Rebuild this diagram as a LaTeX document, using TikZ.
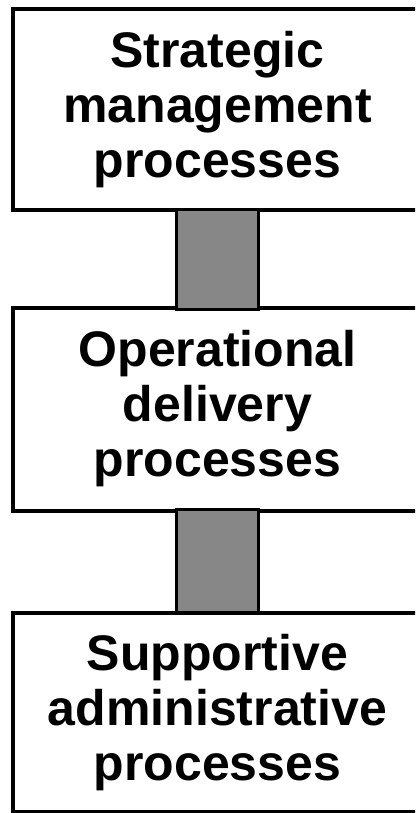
\documentclass[tikz,border=0pt]{standalone}
\usepackage{fontspec}
\setmainfont{Liberation Sans}

\begin{document}
\begin{tikzpicture}[x=1pt,y=-1pt,
        procbox/.style={rectangle, minimum width=409pt, minimum height=200pt,
                        inner sep=0pt, outer sep=0pt, align=center,
                        font=\fontsize{50}{55}\selectfont\bfseries},
        boxline/.style={draw, line width=4pt, fill=white},
        linkbar/.style={draw, line width=3pt, fill=black!47}]
        \useasboundingbox (0,0) rectangle (415,813);
        \clip (0,0) rectangle (415,813);

        % boxes run off the right edge of the page
        \path[boxline] (13,9.5) rectangle (450,209.5);
        \path[boxline] (13,307.5) rectangle (450,510.5);
        \path[boxline] (13,613) rectangle (450,812);

        \node[procbox] (strat) at (217.5, 109.5) {Strategic\\management\\processes};
        \node[procbox] (oper)  at (217.5, 409)   {Operational\\delivery\\processes};
        \node[procbox] (supp)  at (217.5, 712.5) {Supportive\\administrative\\processes};

        \draw[linkbar] ([xshift=-41pt]strat.south) rectangle ([xshift=41pt]oper.north);
        \draw[linkbar] ([xshift=-41pt]oper.south) rectangle ([xshift=41pt]supp.north);

    \end{tikzpicture}
\end{document}
